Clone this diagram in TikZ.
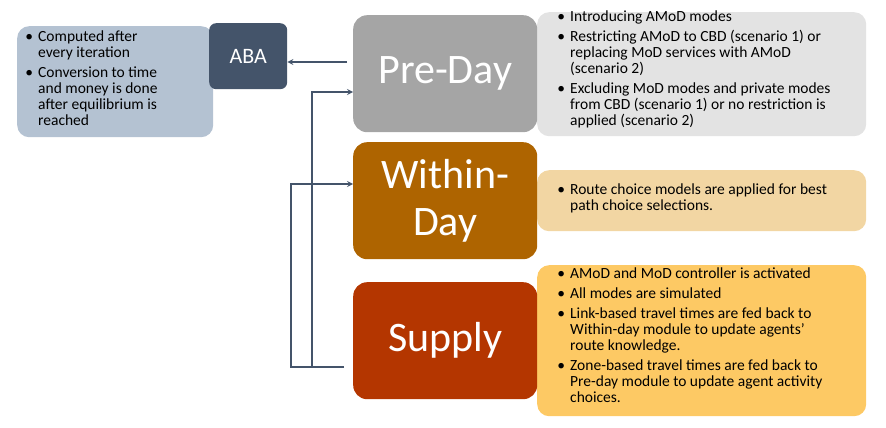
\documentclass[tikz,border=0pt]{standalone}
\usepackage{fontspec}
\setmainfont{Carlito}
\usepackage{enumitem}
\usetikzlibrary{positioning}
\definecolor{abacol}{HTML}{44546A}
\definecolor{abanote}{HTML}{B4C2D2}
\definecolor{precol}{HTML}{A5A5A5}
\definecolor{prenote}{HTML}{E3E3E3}
\definecolor{withincol}{HTML}{AE6400}
\definecolor{withinnote}{HTML}{F2D6A3}
\definecolor{supcol}{HTML}{B43600}
\definecolor{supnote}{HTML}{FDC964}
\definecolor{linkcol}{HTML}{44546A}
\tikzstyle{module} = [rectangle, rounded corners=14pt, text=white, align=center, font=\fontsize{42}{42}\selectfont, minimum width=184pt, minimum height=117pt, anchor=north west, inner sep=0pt]
\tikzstyle{note} = [rectangle, rounded corners=12pt, anchor=north west, inner sep=0pt]
\tikzstyle{notetext} = [anchor=north west, inner sep=0pt, font=\fontsize{15.5}{16}\selectfont]
\tikzstyle{connector} = [line width=1.6pt, draw=linkcol, -stealth]
\newcommand{\notelist}[2]{\begin{minipage}[t]{#1}\raggedright\begin{itemize}[leftmargin=14pt,itemsep=4pt,topsep=0pt,parsep=0pt,label=\textbullet]#2\end{itemize}\end{minipage}}
\begin{document}
\begin{tikzpicture}[x=1pt,y=-1pt]
            \useasboundingbox (0,0) rectangle (886,428);
            \node (abanote) [note, fill=abanote, minimum width=196pt, minimum height=111pt] at (17,26) {};
            \node [notetext] at (24,31) {\notelist{140pt}{
                \item Computed after every iteration
                \item Conversion to time and money is done after equilibrium is reached}};
            \node (aba) [module, fill=abacol, rounded corners=7pt, minimum width=78pt, minimum height=66pt, font=\fontsize{22}{22}\selectfont] at (209,23) {ABA};
            \node (prenote) [note, fill=prenote, minimum width=329pt, minimum height=124pt] at (537,12) {};
            \node [notetext] at (556,11) {\notelist{295pt}{
                \item Introducing AMoD modes
                \item Restricting AMoD to CBD (scenario 1) or replacing MoD services with AMoD\newline (scenario 2)
                \item Excluding MoD modes and private modes from CBD (scenario 1) or no restriction is applied (scenario 2)}};
            \node (withinnote) [note, fill=withinnote, minimum width=329pt, minimum height=61pt] at (537,170) {};
            \node [notetext] at (556,184) {\notelist{290pt}{
                \item Route choice models are applied for best path choice selections.}};
            \node (supnote) [note, fill=supnote, minimum width=329pt, minimum height=151pt] at (537,265) {};
            \node [notetext] at (556,268) {\notelist{290pt}{
                \item AMoD and MoD controller is activated
                \item All modes are simulated
                \item Link-based travel times are fed back to Within-day module to update agents'\newline route knowledge.
                \item Zone-based travel times are fed back to Pre-day module to update agent activity choices.}};
            \node (pre) [module, fill=precol] at (353,15) {Pre-Day};
            \node (within) [module, fill=withincol, font=\fontsize{42}{47}\selectfont] at (353,142) {Within-\\Day};
            \node (supply) [module, fill=supcol] at (353,282) {Supply};
            \coordinate (sup out) at (344,367);
            \draw [connector] (347,62) -- (aba.east |- 0,62);
            \draw [connector] (sup out) -- (312,367) |- (pre.west |- 0,92);
            \draw [connector] (312,367) -- (291,367) |- (within.west |- 0,184);
        \end{tikzpicture}
\end{document}
